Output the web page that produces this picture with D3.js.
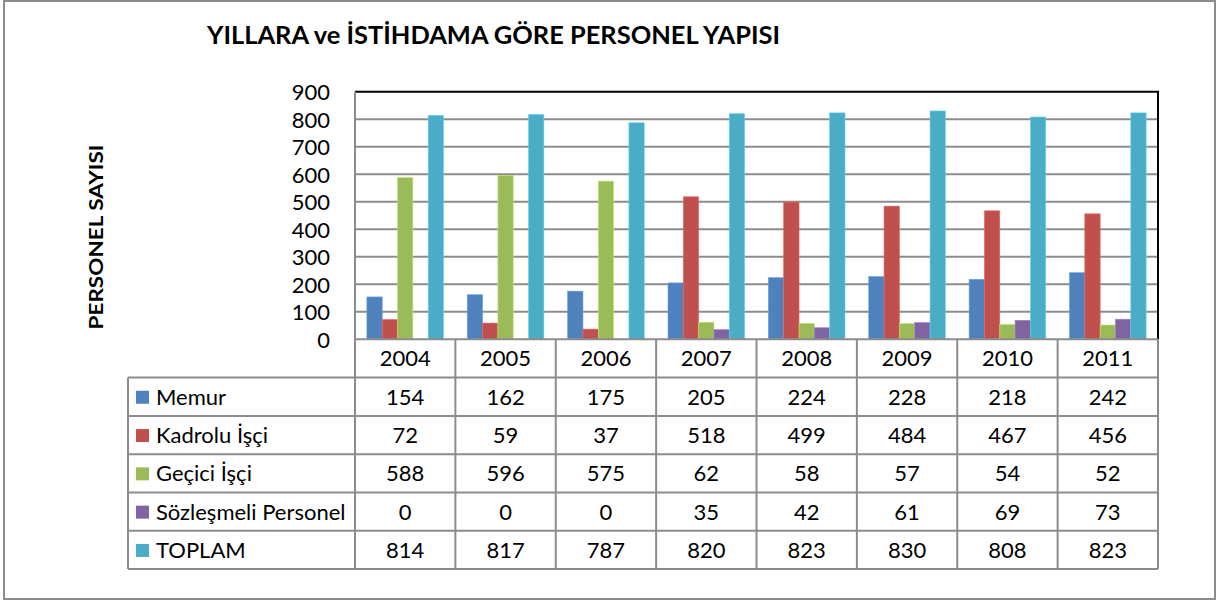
<!DOCTYPE html>
<html><head><meta charset="utf-8">
<script src="https://cdn.jsdelivr.net/npm/d3@7"></script>
<style>
html,body{margin:0;padding:0;background:#fff;}
svg{display:block;}
text{font-family:Lato,"Open Sans",sans-serif;fill:#000;}
</style></head>
<body>
<svg id="chart" width="1219" height="602"></svg>
<script>
const years = ["2004","2005","2006","2007","2008","2009","2010","2011"];
const seriesNames = ["Memur","Kadrolu İşçi","Geçici İşçi","Sözleşmeli Personel","TOPLAM"];
const memur = [154,162,175,205,224,228,218,242];
const kadrolu = [72,59,37,518,499,484,467,456];
const gecici = [588,596,575,62,58,57,54,52];
const sozlesmeli = [0,0,0,35,42,61,69,73];
const toplam = [814,817,787,820,823,830,808,823];
const colors = ["#4F81BD","#C0504D","#9BBB59","#8064A2","#4BACC6"];
const yTicks = [0,100,200,300,400,500,600,700,800,900];
const titleText = "YILLARA ve İSTİHDAMA GÖRE PERSONEL YAPISI";
const yAxisTitle = "PERSONEL SAYISI";

(function(){
const seriesValues = [memur,kadrolu,gecici,sozlesmeli,toplam];
const svg = d3.select("#chart");

// outer frame
svg.append("rect").attr("x",4).attr("y",1).attr("width",1211).attr("height",598)
  .attr("fill","#fff").attr("stroke","#8c8c8c").attr("stroke-width",2);

const pLeft = 355, pRight = 1158, pTop = 91.7, pBottom = 339.3;
const x = d3.scaleBand().domain(years).range([pLeft,pRight]).paddingInner(0).paddingOuter(0);
const xs = d3.scaleBand().domain(d3.range(seriesNames.length)).range([0,x.bandwidth()]).paddingInner(0).paddingOuter(0.775);
const y = d3.scaleLinear().domain([0,900]).range([pBottom,pTop]);

// gridlines
svg.append("g").selectAll("line").data(yTicks.filter(d=>d>0 && d<900)).join("line")
  .attr("x1",pLeft).attr("x2",pRight).attr("y1",d=>y(d)).attr("y2",d=>y(d))
  .attr("stroke","#8c8c8c").attr("stroke-width",2);

// bars
const g = svg.append("g");
seriesValues.forEach((vals,si)=>{
  g.append("g").selectAll("rect").data(vals).join("rect")
    .attr("x",(d,i)=>x(years[i])+xs(si))
    .attr("y",d=>y(d))
    .attr("width",xs.bandwidth())
    .attr("height",d=>y(0)-y(d))
    .attr("fill",colors[si])
    .attr("stroke", d=>d>0 ? d3.color(colors[si]).brighter(0.6) : "none")
    .attr("stroke-width",0.6);
});

// plot border
svg.append("line").attr("x1",pLeft).attr("x2",pRight+1).attr("y1",pTop).attr("y2",pTop).attr("stroke","#000").attr("stroke-width",2);
svg.append("line").attr("x1",pRight).attr("x2",pRight).attr("y1",pTop).attr("y2",pBottom).attr("stroke","#000").attr("stroke-width",2);
svg.append("line").attr("x1",pLeft).attr("x2",pLeft).attr("y1",pTop).attr("y2",pBottom).attr("stroke","#8c8c8c").attr("stroke-width",2);

// y axis tick labels
const yAxis = d3.axisLeft(y).tickValues(yTicks).tickSize(0).tickPadding(0);
const ya = svg.append("g").attr("transform",`translate(330,0)`).call(yAxis);
ya.select(".domain").remove();
ya.selectAll("text").attr("font-family","Lato, sans-serif").attr("font-size",22).attr("fill","#000").attr("dy","0.36em");

// y axis title
svg.append("text").attr("transform","translate(103,237) rotate(-90)")
  .attr("text-anchor","middle").attr("font-weight","bold").attr("font-size",19.5)
  .attr("textLength",185).attr("lengthAdjust","spacingAndGlyphs")
  .text(yAxisTitle);

// title
svg.append("text").attr("x",207).attr("y",44.3).attr("font-weight","bold").attr("font-size",24.5)
  .attr("textLength",573).attr("lengthAdjust","spacingAndGlyphs").text(titleText);

// data table
const rowH = 38.3;
const headerTop = pBottom, headerBot = pBottom + rowH;
const tableLeft = 128;
const rowY = d3.scaleBand().domain(seriesNames).range([headerBot, headerBot + rowH*seriesNames.length]);
const tg = svg.append("g");
const gridStroke = "#8c8c8c";
tg.append("line").attr("x1",pLeft).attr("x2",pRight).attr("y1",headerTop).attr("y2",headerTop).attr("stroke",gridStroke).attr("stroke-width",2);
tg.selectAll(".hl").data(d3.range(seriesNames.length+1)).join("line")
  .attr("x1",tableLeft).attr("x2",pRight)
  .attr("y1",i=>headerBot + i*rowH).attr("y2",i=>headerBot + i*rowH)
  .attr("stroke",gridStroke).attr("stroke-width",2);
tg.selectAll(".vl").data(years.concat(["end"])).join("line")
  .attr("x1",d=>d==="end"?pRight:x(d)).attr("x2",d=>d==="end"?pRight:x(d))
  .attr("y1",headerTop).attr("y2",headerBot + rowH*seriesNames.length)
  .attr("stroke",gridStroke).attr("stroke-width",2);
tg.append("line").attr("x1",tableLeft).attr("x2",tableLeft).attr("y1",headerBot).attr("y2",headerBot + rowH*seriesNames.length)
  .attr("stroke",gridStroke).attr("stroke-width",2);

tg.selectAll(".yr").data(years).join("text")
  .attr("x",d=>x(d)+x.bandwidth()/2).attr("y",headerTop+rowH/2).attr("dy","0.36em")
  .attr("text-anchor","middle").attr("font-size",22).text(d=>d);

seriesNames.forEach((name,si)=>{
  const cy = rowY(name) + rowH/2;
  tg.append("rect").attr("x",136).attr("y",cy-6).attr("width",13).attr("height",13).attr("fill",colors[si]);
  tg.append("text").attr("x",156).attr("y",cy).attr("dy","0.36em").attr("font-size",22).text(name);
  tg.append("g").selectAll("text").data(seriesValues[si]).join("text")
    .attr("x",(d,i)=>x(years[i])+x.bandwidth()/2).attr("y",cy).attr("dy","0.36em")
    .attr("text-anchor","middle").attr("font-size",22).text(d=>d);
});
})();
</script>
</body></html>
